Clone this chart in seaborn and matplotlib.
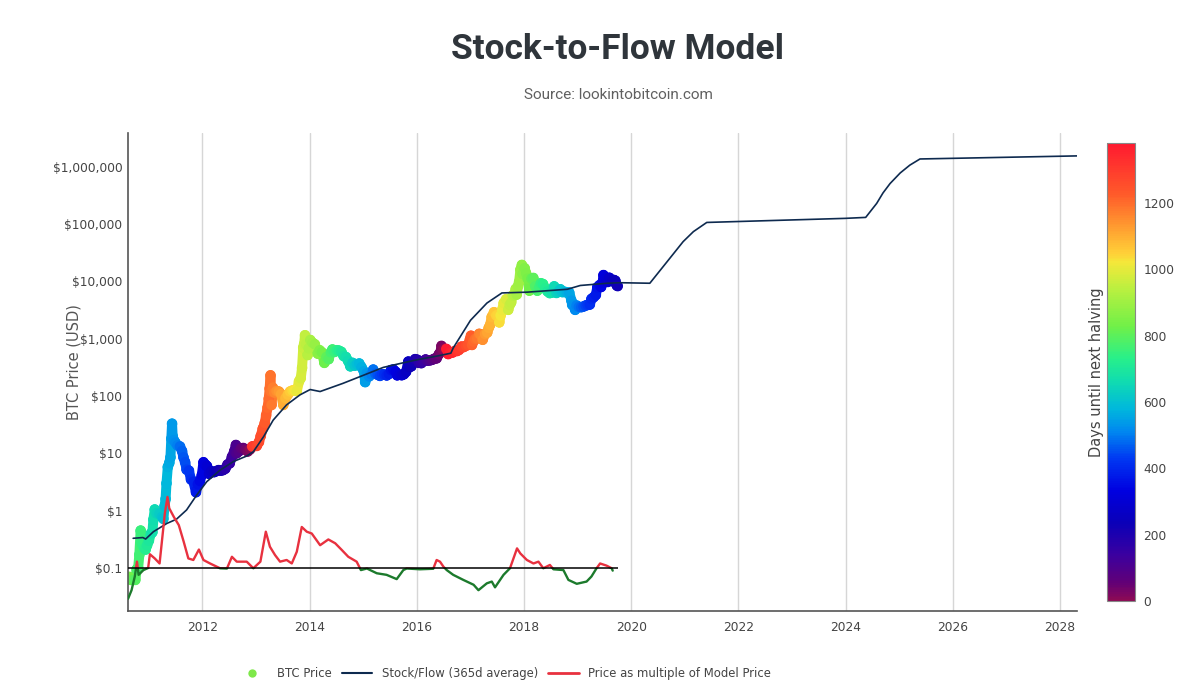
import numpy as np
import pandas as pd
import matplotlib
matplotlib.use('Agg')
import matplotlib.pyplot as plt
import matplotlib.dates as mdates
from matplotlib.colors import LinearSegmentedColormap, Normalize
from matplotlib.cm import ScalarMappable
from matplotlib.collections import LineCollection
from matplotlib.lines import Line2D
from matplotlib.patches import Rectangle
from matplotlib.ticker import FixedLocator, FuncFormatter, NullLocator
import seaborn as sns

# BTC price (USD)
price_dates = [
    '2010-08-12', '2010-08-20', '2010-09-01', '2010-09-15', '2010-10-01', '2010-10-10',
    '2010-10-20', '2010-10-28', '2010-11-06', '2010-11-12', '2010-11-20', '2010-12-01',
    '2010-12-10', '2010-12-20', '2011-01-01', '2011-01-15', '2011-01-25', '2011-02-01',
    '2011-02-10', '2011-02-20', '2011-03-01', '2011-03-15', '2011-04-01', '2011-04-10',
    '2011-04-18', '2011-04-25', '2011-05-01', '2011-05-10', '2011-05-20', '2011-05-28',
    '2011-06-03', '2011-06-08', '2011-06-12', '2011-06-20', '2011-07-01', '2011-07-15',
    '2011-08-01', '2011-08-15', '2011-08-25', '2011-09-05', '2011-09-15', '2011-10-01',
    '2011-10-15', '2011-11-01', '2011-11-18', '2011-12-01', '2011-12-15', '2011-12-28',
    '2012-01-08', '2012-01-20', '2012-02-01', '2012-02-15', '2012-03-01', '2012-03-20',
    '2012-04-05', '2012-04-20', '2012-05-05', '2012-05-20', '2012-06-05', '2012-06-20',
    '2012-07-05', '2012-07-20', '2012-08-05', '2012-08-16', '2012-08-20', '2012-09-05',
    '2012-09-20', '2012-10-05', '2012-10-20', '2012-11-05', '2012-11-20', '2012-12-05',
    '2012-12-20', '2013-01-05', '2013-01-20', '2013-02-01', '2013-02-15', '2013-03-01',
    '2013-03-10', '2013-03-20', '2013-03-28', '2013-04-03', '2013-04-09', '2013-04-12',
    '2013-04-16', '2013-04-25', '2013-05-05', '2013-05-20', '2013-06-05', '2013-06-20',
    '2013-07-05', '2013-07-20', '2013-08-05', '2013-08-20', '2013-09-05', '2013-09-20',
    '2013-10-05', '2013-10-20', '2013-11-01', '2013-11-10', '2013-11-18', '2013-11-24',
    '2013-11-30', '2013-12-07', '2013-12-18', '2013-12-25', '2014-01-05', '2014-01-20',
    '2014-02-05', '2014-02-25', '2014-03-10', '2014-03-25', '2014-04-11', '2014-04-25',
    '2014-05-10', '2014-05-25', '2014-06-05', '2014-06-20', '2014-07-05', '2014-07-20',
    '2014-08-05', '2014-08-20', '2014-09-05', '2014-09-20', '2014-10-05', '2014-10-20',
    '2014-11-05', '2014-11-20', '2014-12-05', '2014-12-20', '2015-01-05', '2015-01-14',
    '2015-01-25', '2015-02-10', '2015-02-25', '2015-03-10', '2015-03-25', '2015-04-10',
    '2015-04-25', '2015-05-10', '2015-05-25', '2015-06-10', '2015-06-25', '2015-07-10',
    '2015-07-25', '2015-08-10', '2015-08-20', '2015-09-05', '2015-09-20', '2015-10-05',
    '2015-10-20', '2015-11-04', '2015-11-12', '2015-11-25', '2015-12-05', '2015-12-20',
    '2016-01-05', '2016-01-16', '2016-02-01', '2016-02-15', '2016-03-01', '2016-03-15',
    '2016-04-01', '2016-04-15', '2016-05-01', '2016-05-15', '2016-05-30', '2016-06-10',
    '2016-06-17', '2016-06-24', '2016-07-05', '2016-07-20', '2016-08-02', '2016-08-15',
    '2016-09-01', '2016-09-15', '2016-10-01', '2016-10-15', '2016-11-01', '2016-11-15',
    '2016-12-01', '2016-12-15', '2016-12-28', '2017-01-04', '2017-01-11', '2017-01-20',
    '2017-02-01', '2017-02-15', '2017-03-01', '2017-03-10', '2017-03-25', '2017-04-10',
    '2017-04-25', '2017-05-05', '2017-05-15', '2017-05-25', '2017-06-10', '2017-06-25',
    '2017-07-05', '2017-07-16', '2017-07-25', '2017-08-05', '2017-08-15', '2017-09-01',
    '2017-09-15', '2017-09-25', '2017-10-05', '2017-10-15', '2017-10-25', '2017-11-05',
    '2017-11-12', '2017-11-20', '2017-11-28', '2017-12-07', '2017-12-17', '2017-12-22',
    '2018-01-05', '2018-01-15', '2018-01-25', '2018-02-06', '2018-02-20', '2018-03-05',
    '2018-03-18', '2018-04-01', '2018-04-15', '2018-04-25', '2018-05-10', '2018-05-25',
    '2018-06-10', '2018-06-25', '2018-07-10', '2018-07-25', '2018-08-10', '2018-08-25',
    '2018-09-05', '2018-09-20', '2018-10-05', '2018-10-20', '2018-11-05', '2018-11-20',
    '2018-11-25', '2018-12-05', '2018-12-15', '2018-12-25', '2019-01-10', '2019-01-25',
    '2019-02-10', '2019-02-25', '2019-03-10', '2019-03-25', '2019-04-05', '2019-04-20',
    '2019-05-05', '2019-05-15', '2019-05-30', '2019-06-10', '2019-06-20', '2019-06-26',
    '2019-07-05', '2019-07-15', '2019-07-25', '2019-08-05', '2019-08-15', '2019-08-25',
    '2019-09-05', '2019-09-15', '2019-09-25', '2019-10-01',
]
price_usd = [
    0.065, 0.07, 0.062, 0.062, 0.062, 0.095,
    0.10, 0.17, 0.45, 0.28, 0.25, 0.22,
    0.21, 0.25, 0.30, 0.40, 0.42, 0.70,
    1.05, 0.90, 0.90, 0.88, 0.78, 0.72,
    1.2, 1.6, 3.0, 5.8, 6.8, 8.5,
    18, 33, 20, 17, 15.4, 13.8,
    13.2, 11, 8.5, 7, 5.2, 5.0,
    3.5, 3.2, 2.1, 2.9, 3.3, 4.2,
    7.0, 6.4, 6.0, 4.4, 4.9, 4.7,
    4.9, 5.1, 5.0, 5.1, 5.4, 6.4,
    6.7, 8.7, 10.9, 14, 10, 10.8,
    12.3, 12.4, 11.6, 10.8, 11.7, 13.2,
    13.4, 13.5, 15.7, 20, 27, 34,
    46, 63, 90, 135, 230, 120,
    70, 140, 115, 122, 120, 108,
    70, 92, 106, 120, 125, 126,
    122, 180, 205, 310, 700, 800,
    1150, 800, 520, 680, 950, 850,
    800, 550, 630, 580, 380, 480,
    440, 580, 650, 590, 630, 620,
    590, 500, 480, 410, 330, 380,
    340, 360, 370, 320, 270, 175,
    250, 220, 240, 290, 245, 235,
    225, 240, 237, 229, 243, 285,
    290, 265, 230, 236, 231, 240,
    265, 400, 320, 330, 390, 440,
    430, 380, 375, 405, 435, 415,
    420, 430, 450, 455, 535, 580,
    750, 640, 670, 665, 540, 570,
    575, 610, 610, 640, 730, 715,
    755, 780, 975, 1130, 780, 895,
    990, 1010, 1220, 1190, 960, 1210,
    1280, 1550, 1750, 2400, 2900, 2550,
    2600, 1930, 2550, 3200, 4200, 4900,
    3200, 3900, 4300, 5700, 5800, 7400,
    5900, 8200, 9800, 16000, 19400, 13500,
    17000, 13800, 11200, 6900, 11200, 11500,
    8200, 6900, 8000, 9300, 9000, 7500,
    6700, 6250, 6400, 8200, 6300, 6700,
    7300, 6500, 6600, 6400, 6400, 4600,
    3900, 3800, 3200, 3800, 3600, 3550,
    3650, 3800, 3900, 3950, 4950, 5300,
    5800, 7900, 8600, 8000, 9500, 12900,
    11000, 10200, 9800, 11600, 10300, 10100,
    10600, 10300, 8500, 8300,
]

# stock-to-flow model price (365d average)
s2f_dates = [
    '2010-09-16', '2010-11-21', '2010-12-10', '2011-02-01', '2011-05-04', '2011-07-08',
    '2011-09-15', '2011-11-22', '2012-01-30', '2012-04-30', '2012-07-30', '2012-10-29',
    '2012-12-13', '2013-02-21', '2013-04-27', '2013-07-27', '2013-10-27', '2014-01-04',
    '2014-03-13', '2014-08-14', '2015-01-01', '2015-05-17', '2015-09-29', '2016-01-03',
    '2016-05-20', '2016-08-20', '2016-09-05', '2017-01-01', '2017-04-23', '2017-08-03',
    '2018-01-22', '2018-10-23', '2019-01-19', '2019-07-20', '2019-10-16', '2020-05-07',
    '2020-09-01', '2020-12-20', '2021-02-28', '2021-05-30', '2023-12-28', '2024-05-17',
    '2024-07-31', '2024-09-12', '2024-10-30', '2025-01-07', '2025-03-14', '2025-05-22',
    '2028-04-26',
]
s2f_usd = [
    0.33, 0.34, 0.32, 0.43, 0.60, 0.71,
    1.03, 1.86, 3.2, 5.1, 7.2, 9.0,
    10.7, 19.6, 38, 70, 105, 130,
    120, 166, 230, 316, 380, 430,
    500, 560, 690, 2100, 4200, 6300,
    6500, 7300, 8500, 9300, 9500, 9300,
    22000, 49500, 74000, 107000, 126000, 131000,
    230000, 350000, 510000, 780000, 1070000, 1370000,
    1550000,
]

# price as multiple of model price
ratio_dates = [
    '2010-08-12', '2010-09-05', '2010-09-27', '2010-10-12', '2010-10-23', '2010-11-25',
    '2010-12-27', '2011-01-08', '2011-02-10', '2011-03-15', '2011-04-01', '2011-04-20',
    '2011-05-08', '2011-05-20', '2011-06-20', '2011-07-24', '2011-08-26', '2011-09-27',
    '2011-10-31', '2011-12-08', '2012-01-08', '2012-02-22', '2012-04-30', '2012-06-16',
    '2012-07-20', '2012-08-22', '2012-10-29', '2012-12-13', '2013-01-30', '2013-03-08',
    '2013-04-05', '2013-05-10', '2013-06-13', '2013-07-28', '2013-09-01', '2013-10-05',
    '2013-11-08', '2013-12-12', '2014-01-15', '2014-03-13', '2014-05-08', '2014-06-24',
    '2014-08-08', '2014-09-21', '2014-11-17', '2014-12-16', '2015-01-26', '2015-04-03',
    '2015-06-09', '2015-08-17', '2015-10-01', '2015-10-24', '2016-01-22', '2016-04-22',
    '2016-05-15', '2016-06-07', '2016-07-01', '2016-07-23', '2016-09-05', '2016-11-13',
    '2017-01-22', '2017-02-24', '2017-04-22', '2017-05-26', '2017-06-17', '2017-08-14',
    '2017-09-27', '2017-11-14', '2017-12-06', '2018-01-20', '2018-03-06', '2018-04-09',
    '2018-05-12', '2018-06-26', '2018-07-20', '2018-09-26', '2018-10-30', '2018-12-26',
    '2019-03-03', '2019-04-05', '2019-05-10', '2019-06-03', '2019-07-17', '2019-08-21',
    '2019-08-28',
]
ratio_mult = [
    0.29, 0.41, 0.71, 1.29, 0.76, 0.92,
    1.0, 1.74, 1.47, 1.2, 3.1, 9.0,
    17.4, 11, 7.8, 5.6, 2.9, 1.47,
    1.38, 2.1, 1.38, 1.2, 0.99, 0.98,
    1.57, 1.29, 1.29, 0.99, 1.29, 4.3,
    2.35, 1.68, 1.29, 1.38, 1.2, 1.92,
    5.2, 4.3, 4.0, 2.5, 3.15, 2.7,
    2.06, 1.57, 1.29, 0.92, 0.98, 0.81,
    0.76, 0.64, 0.92, 0.98, 0.95, 0.97,
    1.38, 1.29, 1.05, 0.92, 0.76, 0.62,
    0.51, 0.41, 0.54, 0.58, 0.46, 0.76,
    0.99, 2.2, 1.8, 1.38, 1.2, 1.29,
    0.99, 1.13, 0.95, 0.92, 0.62, 0.53,
    0.58, 0.71, 0.99, 1.2, 1.1, 0.99,
    0.9,
]

halving_dates = ['2012-11-28', '2016-07-09', '2020-05-11']

y_ticks = [0.1, 1, 10, 100, 1000, 10000, 100000, 1000000]
bar_ticks = [0, 200, 400, 600, 800, 1000, 1200]

# colour scale of the days-until-halving bar (bottom -> top)
cscale_pos = [0.0, 0.04, 0.10, 0.17, 0.24, 0.31, 0.37, 0.42, 0.48, 0.53, 0.60, 0.68,
              0.74, 0.76, 0.82, 0.89, 1.0]
cscale_col = ['#8c0a55', '#600078', '#3a00a0', '#0a00b8', '#0000e0', '#0038f2', '#0088f0',
              '#00b8dc', '#10dcb0', '#28f08a', '#70f048', '#b8f040', '#f4e83a', '#ffd038',
              '#ff9a30', '#ff5a2a', '#ff1a30']
days_max = 1380

sns.set_style('white')
plt.rcParams['font.family'] = ['DejaVu Sans']

price = pd.DataFrame({'date': pd.to_datetime(price_dates), 'usd': price_usd})
halvings = pd.to_datetime(halving_dates).values
nxt = np.searchsorted(halvings, price['date'].values, side='right')
price['days'] = (halvings[nxt] - price['date'].values) / np.timedelta64(1, 'D')

s2f = pd.DataFrame({'date': pd.to_datetime(s2f_dates), 'usd': s2f_usd})
ratio = pd.DataFrame({'date': pd.to_datetime(ratio_dates), 'mult': ratio_mult})

cmap = LinearSegmentedColormap.from_list('halving', list(zip(cscale_pos, cscale_col)))
norm = Normalize(0, days_max)

fig = plt.figure(figsize=(11.8, 6.92), dpi=100)
ax = fig.add_axes([0.1085, 0.1171, 0.8042, 0.6908])

ylo, yhi = 0.0178, 3.9e6
xlo, xhi = pd.Timestamp('2010-08-12'), pd.Timestamp('2028-04-26')

# dense daily markers in the original form a thick band: a wide coloured path under the dots
px = mdates.date2num(price['date'])
pts = np.column_stack([px, price['usd']])
segs = np.stack([pts[:-1], pts[1:]], axis=1)
band = LineCollection(segs, cmap=cmap, norm=norm, linewidths=7.2, capstyle='round',
                      joinstyle='round', zorder=1.5)
band.set_array(price['days'].values[:-1])
ax.add_collection(band)

sns.scatterplot(data=price, x='date', y='usd', hue='days', palette=cmap, hue_norm=norm,
                s=58, linewidth=0, legend=False, ax=ax, zorder=2)
sns.lineplot(data=s2f, x='date', y='usd', color='#0e2a4f', linewidth=1.2, ax=ax, zorder=3)

ax.set_yscale('log')
ax.set_ylim(ylo, yhi)
ax.set_xlim(xlo, xhi)
ax.yaxis.set_major_locator(FixedLocator(y_ticks))
ax.yaxis.set_minor_locator(NullLocator())
ax.yaxis.set_major_formatter(FuncFormatter(lambda v, p: '$0.1' if v < 1 else '${:,.0f}'.format(v)))
ax.xaxis.set_major_locator(mdates.YearLocator(2))
ax.xaxis.set_major_formatter(mdates.DateFormatter('%Y'))
ax.tick_params(axis='both', length=0, labelsize=8.8, colors='#444444')
ax.tick_params(axis='y', pad=4)
ax.tick_params(axis='x', pad=7)
ax.grid(axis='x', color='#d6d6d6', linewidth=1)
ax.grid(axis='y', visible=False)
ax.set_axisbelow(True)
for side in ['top', 'right']:
    ax.spines[side].set_visible(False)
for side in ['left', 'bottom']:
    ax.spines[side].set_color('#555555')
    ax.spines[side].set_linewidth(1.2)
ax.set_xlabel('')
ax.set_ylabel('BTC Price (USD)', fontsize=10.5, color='#555555')
ax.yaxis.set_label_coords(-0.049, 0.52)

# multiple of model price on a twin log axis, 1x lined up with $0.1
ax2 = ax.twinx()
ax2.set_yscale('log')
ax2.set_ylim(ylo * 10, yhi * 10)
ax2.set_xlim(ax.get_xlim())
ax2.axis('off')
x0, x1 = ax.get_xlim()
above = Rectangle((x0, 1.0), x1 - x0, 1e9, transform=ax2.transData)
below = Rectangle((x0, 1e-9), x1 - x0, 1.0 - 1e-9, transform=ax2.transData)
red, = ax2.plot(ratio['date'], ratio['mult'], color='#e8313f', linewidth=1.7)
green, = ax2.plot(ratio['date'], ratio['mult'], color='#1c7a2c', linewidth=1.7)
red.set_clip_path(above)
green.set_clip_path(below)
ax2.hlines(1, xlo, price['date'].iloc[-1], color='black', linewidth=1.1)

# colour bar
cax = fig.add_axes([0.9381, 0.1315, 0.0237, 0.6618])
sm = ScalarMappable(norm=norm, cmap=cmap)
cb = fig.colorbar(sm, cax=cax)
cb.outline.set_edgecolor('#888888')
cb.outline.set_linewidth(0.8)
cb.set_ticks(bar_ticks)
cax.tick_params(length=0, labelsize=8.8, colors='#444444', pad=6)
cax.yaxis.set_label_position('left')
cax.set_ylabel('Days until next halving', fontsize=10.5, color='#444444', labelpad=2)

# titles
fig.text(0.5237, 0.928, 'Stock-to-Flow Model', ha='center', va='center', fontsize=25.5,
         fontweight='bold', family='Roboto', color='#2f353b')
fig.text(0.5237, 0.863, 'Source: lookintobitcoin.com', ha='center', va='center', fontsize=11,
         family='Roboto', color='#606060')

handles = [
    Line2D([], [], marker='o', linestyle='none', markersize=6, markerfacecolor='#7ee84a',
           markeredgewidth=0),
    Line2D([], [], color='#0e2a4f', linewidth=1.5),
    Line2D([], [], color='#e8313f', linewidth=2),
]
labels = ['BTC Price', 'Stock/Flow (365d average)', 'Price as multiple of Model Price']
leg = fig.legend(handles, labels, loc='center', bbox_to_anchor=(0.427, 0.027), ncol=3,
                 frameon=False, fontsize=8.4, handlelength=2.6, columnspacing=0.9,
                 handletextpad=0.8)
for t in leg.get_texts():
    t.set_color('#444444')

fig.savefig('out.png', dpi=100)
